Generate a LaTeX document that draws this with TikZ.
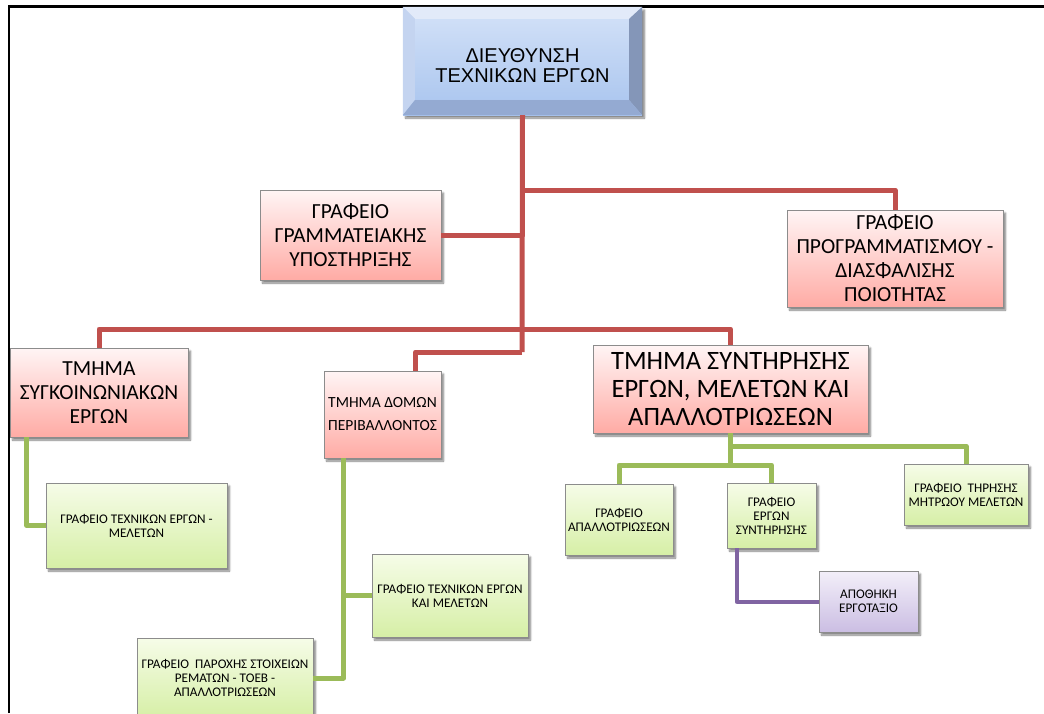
\documentclass[tikz,border=0pt]{standalone}
\usepackage{fontspec}
\setmainfont{Carlito}
\newfontfamily\arialfont{Liberation Sans}
\usetikzlibrary{shadows.blur}

\definecolor{redline}{HTML}{C0504D}
\definecolor{greenline}{HTML}{9BBB59}
\definecolor{purpleline}{HTML}{8064A2}

\tikzset{
  box/.style={draw=black!45, line width=0.8pt, align=center, inner sep=0pt,
    blur shadow={shadow xshift=2.5pt, shadow yshift=-3pt, shadow blur steps=6, shadow opacity=50}},
  redbox/.style={box, top color=red!4!white, bottom color=red!32!white!95!orange,
    font=\fontsize{21.5}{24}\selectfont},
  greenbox/.style={box, top color={rgb,255:red,246;green,252;blue,232}, bottom color={rgb,255:red,214;green,239;blue,166},
    font=\fontsize{13.2}{14}\selectfont},
  purplebox/.style={box, top color={rgb,255:red,243;green,239;blue,249}, bottom color={rgb,255:red,203;green,190;blue,227},
    font=\fontsize{13.2}{14}\selectfont},
  redlink/.style={draw=redline, line width=5pt, line join=round},
  greenlink/.style={draw=greenline, line width=5pt, line join=round},
  purplelink/.style={draw=purpleline, line width=4pt, line join=round},
}

\begin{document}
\begin{tikzpicture}[x=1pt, y=-1pt]
  \useasboundingbox (0,0) rectangle (1044,713);
  \clip (0,0) rectangle (1044,713);

  % frame
  \draw[line width=3pt] (9,6) -- (1044,6);
  \draw[line width=2pt] (9,713) -- (9,5);

  % director, bevelled
  \node[inner sep=0pt, minimum width=239pt, minimum height=108pt,
        top color={rgb,255:red,212;green,226;blue,248}, bottom color={rgb,255:red,168;green,196;blue,238},
        blur shadow={shadow xshift=2.5pt, shadow yshift=-3pt, shadow blur steps=6, shadow opacity=50}]
        (dir) at (522.5,61) {};
  \fill[fill={rgb,255:red,226;green,234;blue,249}] (dir.north west) -- (dir.north east) -- ([shift={(-13,12)}]dir.north east)
        -- ([shift={(12,12)}]dir.north west) -- cycle;
  \fill[fill={rgb,255:red,196;green,212;blue,240}] (dir.north west) -- ([shift={(12,12)}]dir.north west)
        -- ([shift={(12,-15)}]dir.south west) -- (dir.south west) -- cycle;
  \fill[fill={rgb,255:red,132;green,150;blue,184}] (dir.north east) -- (dir.south east) -- ([shift={(-13,-15)}]dir.south east)
        -- ([shift={(-13,12)}]dir.north east) -- cycle;
  \fill[fill={rgb,255:red,148;green,170;blue,210}] (dir.south west) -- ([shift={(12,-15)}]dir.south west)
        -- ([shift={(-13,-15)}]dir.south east) -- (dir.south east) -- cycle;
  \node[align=center, font=\arialfont\fontsize{20}{20}\selectfont] (dirtext) at ([yshift=-5pt]dir.center)
        {ΔΙΕΥΘΥΝΣΗ\\ΤΕΧΝΙΚΩΝ ΕΡΓΩΝ};

  % red level
  \node[redbox, minimum width=181pt, minimum height=90pt] (gram) at (350.5,235)
        {ΓΡΑΦΕΙΟ\\ΓΡΑΜΜΑΤΕΙΑΚΗΣ\\ΥΠΟΣΤΗΡΙΞΗΣ};
  \node[redbox, minimum width=216pt, minimum height=97pt] (progr) at (895,258.5)
        {ΓΡΑΦΕΙΟ\\ΠΡΟΓΡΑΜΜΑΤΙΣΜΟΥ -\\ΔΙΑΣΦΑΛΙΣΗΣ\\ΠΟΙΟΤΗΤΑΣ};
  \node[redbox, minimum width=178pt, minimum height=89pt] (tmsyg) at (99,392.5)
        {ΤΜΗΜΑ\\ΣΥΓΚΟΙΝΩΝΙΑΚΩΝ\\ΕΡΓΩΝ};
  \node[redbox, minimum width=117pt, minimum height=87pt, font=\fontsize{15.5}{23}\selectfont] (tmdom) at (382.5,414.5)
        {ΤΜΗΜΑ ΔΟΜΩΝ\\ΠΕΡΙΒΑΛΛΟΝΤΟΣ};
  \node[redbox, minimum width=275pt, minimum height=88pt, font=\fontsize{26.5}{28}\selectfont] (tmsyn) at (730.5,389)
        {ΤΜΗΜΑ ΣΥΝΤΗΡΗΣΗΣ\\ΕΡΓΩΝ, ΜΕΛΕΤΩΝ ΚΑΙ\\ΑΠΑΛΛΟΤΡΙΩΣΕΩΝ};

  % green level
  \node[greenbox, minimum width=181pt, minimum height=85pt] (gtech) at (136.5,525.5)
        {ΓΡΑΦΕΙΟ ΤΕΧΝΙΚΩΝ ΕΡΓΩΝ -\\ΜΕΛΕΤΩΝ};
  \node[greenbox, minimum width=156pt, minimum height=83pt] (gkai) at (450,595.5)
        {ΓΡΑΦΕΙΟ ΤΕΧΝΙΚΩΝ ΕΡΓΩΝ\\ΚΑΙ ΜΕΛΕΤΩΝ};
  \node[greenbox, minimum width=176pt, minimum height=80pt] (gparox) at (225,678)
        {ΓΡΑΦΕΙΟ\ \ ΠΑΡΟΧΗΣ ΣΤΟΙΧΕΙΩΝ\\ΡΕΜΑΤΩΝ - ΤΟΕΒ -\\ΑΠΑΛΛΟΤΡΙΩΣΕΩΝ};
  \node[greenbox, minimum width=108pt, minimum height=71pt] (gapal) at (619,519.5)
        {ΓΡΑΦΕΙΟ\\ΑΠΑΛΛΟΤΡΙΩΣΕΩΝ};
  \node[greenbox, minimum width=89pt, minimum height=65pt] (gerg) at (771.5,515.5)
        {ΓΡΑΦΕΙΟ\\ΕΡΓΩΝ\\ΣΥΝΤΗΡΗΣΗΣ};
  \node[greenbox, minimum width=124pt, minimum height=61pt] (gtir) at (966,494.5)
        {ΓΡΑΦΕΙΟ\ \ ΤΗΡΗΣΗΣ\\ΜΗΤΡΩΟΥ ΜΕΛΕΤΩΝ};
  \node[purplebox, minimum width=99pt, minimum height=61pt] (apoth) at (868.5,601.5)
        {ΑΠΟΘΗΚΗ\\ΕΡΓΟΤΑΞΙΟ};

  % junctions
  \coordinate (r1) at (522,190);
  \coordinate (r2) at (522,329);
  \coordinate (r3) at (522,352);
  \coordinate (g1) at (730.5,446);
  \coordinate (g2) at (730.5,465);

  % red connectors
  \path[redlink] (dir.south) -- (r3);
  \path[redlink] (r1) -| (progr.north);
  \path[redlink] (gram.east) -- (gram.east -| r1);
  \path[redlink] (tmsyg.north) |- (r2) -| (tmsyn.north);
  \path[redlink] (r3) -| ([xshift=33pt]tmdom.north);

  % green connectors
  \path[greenlink] ([xshift=17pt]tmsyg.south west) |- (gtech.west);
  \path[greenlink] ([xshift=20pt]tmdom.south west) |- (gparox.east);
  \path[greenlink] ([xshift=20pt]tmdom.south west |- gkai.west) -- (gkai.west);
  \path[greenlink] (tmsyn.south) -- (g2);
  \path[greenlink] (g1) -| (gtir.north);
  \path[greenlink] (gapal.north) |- (g2) -| (gerg.north);

  % purple connector
  \path[purplelink] ([xshift=10pt]gerg.south west) |- (apoth.west);
\end{tikzpicture}
\end{document}
